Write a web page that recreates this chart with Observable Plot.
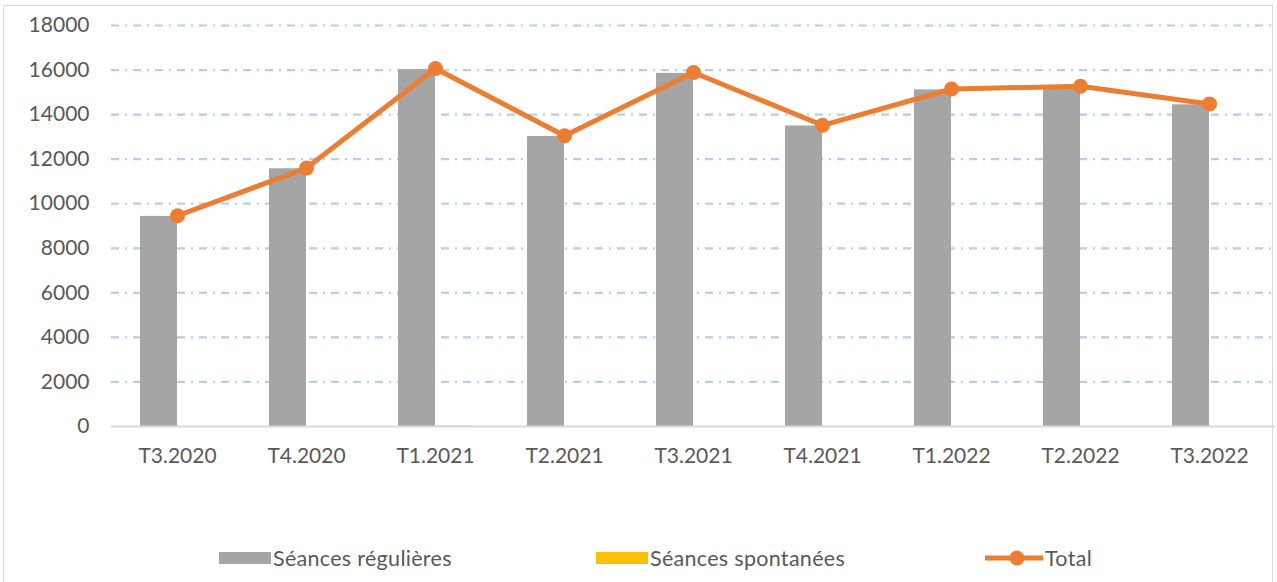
<!DOCTYPE html>
<html>
<head>
<meta charset="utf-8">
<script src="https://cdn.jsdelivr.net/npm/d3@7"></script>
<script src="https://cdn.jsdelivr.net/npm/@observablehq/plot@0.6"></script>
<style>
  html, body { margin: 0; padding: 0; background: #fff; }
  body { width: 1277px; height: 582px; position: relative; overflow: hidden; font-family: Lato, "Liberation Sans", sans-serif; }
  #frame { position: absolute; left: 3px; top: 5px; width: 1270px; height: 600px; border: 1px solid #d9d9d9; box-sizing: border-box; }
  #chart { position: absolute; left: 0; top: 0; }
  .leg { position: absolute; top: 546px; height: 24px; display: flex; align-items: center; font-size: 21.5px; letter-spacing: 0.3px; color: #595959; white-space: nowrap; }
  .sw { display: inline-block; width: 52px; height: 12px; margin-right: 2px; }
</style>
</head>
<body>
<div id="frame"></div>
<div id="chart"></div>
<div class="leg" style="left:219px"><span class="sw" style="background:#a5a5a5"></span>Séances régulières</div>
<div class="leg" style="left:596px"><span class="sw" style="background:#ffc000"></span>Séances spontanées</div>
<div class="leg" style="left:985px"><svg width="58" height="20" style="margin-right:2px"><line x1="0" y1="10" x2="58" y2="10" stroke="#ed7d31" stroke-width="5"/><circle cx="32" cy="10" r="7.5" fill="#ed7d31"/></svg>Total</div>
<script>
const categories = ["T3.2020", "T4.2020", "T1.2021", "T2.2021", "T3.2021", "T4.2021", "T1.2022", "T2.2022", "T3.2022"];
const regulieres = [9430, 11570, 16020, 13020, 15850, 13490, 15110, 15230, 14440];
const spontanees = [0, 0, 25, 0, 0, 0, 0, 0, 0];
const total = [9460, 11600, 16070, 13050, 15890, 13520, 15150, 15270, 14480];
const yTicks = [0, 2000, 4000, 6000, 8000, 10000, 12000, 14000, 16000, 18000];

const rows = categories.map((c, i) => ({cat: c, reg: regulieres[i], spo: spontanees[i], tot: total[i]}));

const chart = Plot.plot({
  width: 1277,
  height: 500,
  marginLeft: 111,
  marginRight: 2,
  marginTop: 25,
  marginBottom: 74,
  style: {fontFamily: "Lato, 'Liberation Sans', sans-serif", fontSize: "21px", color: "#595959", background: "transparent"},
  x: {domain: categories, paddingInner: 0.428, paddingOuter: 0.214, label: null},
  y: {domain: [0, 18000], label: null},
  marks: [
    Plot.ruleY(yTicks.filter(d => d > 0), {stroke: "#b4d0ec", strokeWidth: 2.2, strokeDasharray: "8,6,2,6"}),
    Plot.barY(rows, {x: "cat", y: "reg", fill: "#a5a5a5", insetRight: 37}),
    Plot.barY(rows, {x: "cat", y: "spo", fill: "#ffc000", insetLeft: 37}),
    Plot.ruleY([0], {stroke: "#d9d9d9", strokeWidth: 2}),
    Plot.line(rows, {x: "cat", y: "tot", stroke: "#ed7d31", strokeWidth: 5}),
    Plot.dot(rows, {x: "cat", y: "tot", r: 7.5, fill: "#ed7d31"}),
    Plot.axisY({ticks: yTicks, tickSize: 0, tickPadding: 22, tickFormat: d => String(d), fill: "#595959"}),
    Plot.axisX({tickSize: 0, tickPadding: 22, fill: "#595959"})
  ]
});
document.getElementById("chart").appendChild(chart);
</script>
</body>
</html>
